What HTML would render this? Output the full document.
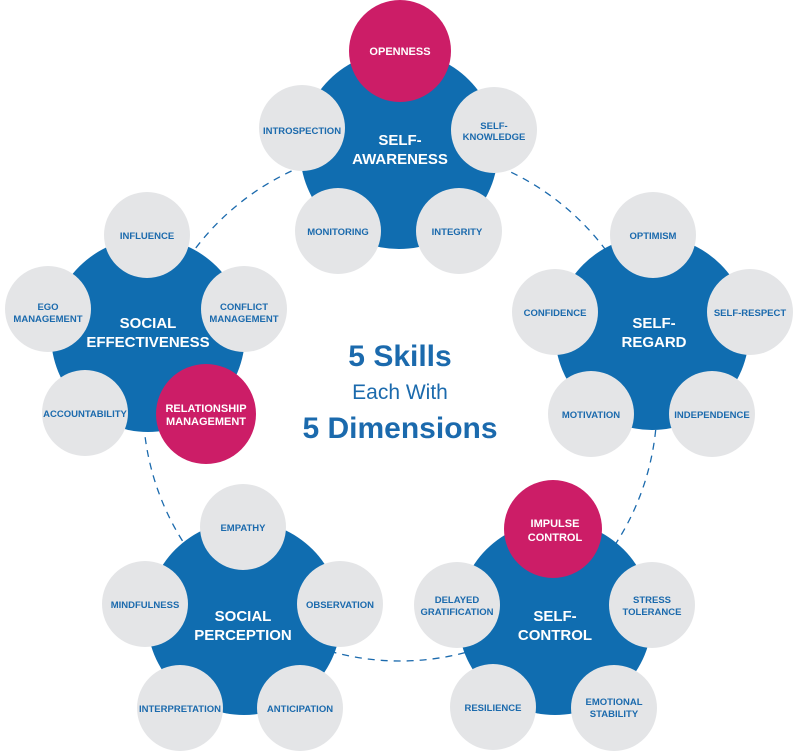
<!DOCTYPE html>
<html><head><meta charset="utf-8"><style>
html,body{margin:0;padding:0;background:#fff;}
svg{display:block;}
text{font-family:"Liberation Sans",sans-serif;font-weight:bold;text-anchor:middle;}
.s{fill:#1b6aad;font-size:9.5px;}
.m{fill:#fff;font-size:11px;}
.b{fill:#fff;font-size:15px;}
</style></head><body>
<svg width="800" height="755" viewBox="0 0 800 755">
<circle cx="400" cy="404" r="257" fill="none" stroke="#1b6aad" stroke-width="1.3" stroke-dasharray="7,6"/>
<g fill="#106db0">
<circle cx="399" cy="150" r="99"/>
<circle cx="148" cy="335" r="97"/>
<circle cx="652" cy="333" r="97"/>
<circle cx="244" cy="618" r="97"/>
<circle cx="555" cy="618" r="97"/>
</g>
<g fill="#e4e5e7">
<circle cx="302" cy="128" r="43"/><circle cx="494" cy="130" r="43"/><circle cx="338" cy="231" r="43"/><circle cx="459" cy="231" r="43"/>
<circle cx="147" cy="235" r="43"/><circle cx="48" cy="309" r="43"/><circle cx="244" cy="309" r="43"/><circle cx="85" cy="413" r="43"/>
<circle cx="653" cy="235" r="43"/><circle cx="555" cy="312" r="43"/><circle cx="750" cy="312" r="43"/><circle cx="591" cy="414" r="43"/><circle cx="712" cy="414" r="43"/>
<circle cx="243" cy="527" r="43"/><circle cx="145" cy="604" r="43"/><circle cx="340" cy="604" r="43"/><circle cx="180" cy="708" r="43"/><circle cx="300" cy="708" r="43"/>
<circle cx="457" cy="605" r="43"/><circle cx="652" cy="605" r="43"/><circle cx="493" cy="707" r="43"/><circle cx="614" cy="708" r="43"/>
</g>
<g fill="#cc1d67">
<circle cx="400" cy="51" r="51"/><circle cx="206" cy="414" r="50"/><circle cx="553" cy="529" r="49"/>
</g>
<text class="m" x="400" y="55">OPENNESS</text>
<text class="m" x="206" y="412">RELATIONSHIP</text><text class="m" x="206" y="425">MANAGEMENT</text>
<text class="m" x="555" y="527">IMPULSE</text><text class="m" x="555" y="541">CONTROL</text>
<text class="b" x="400" y="145">SELF-</text><text class="b" x="400" y="164">AWARENESS</text>
<text class="b" x="148" y="328">SOCIAL</text><text class="b" x="148" y="347">EFFECTIVENESS</text>
<text class="b" x="654" y="328">SELF-</text><text class="b" x="654" y="347">REGARD</text>
<text class="b" x="243" y="621">SOCIAL</text><text class="b" x="243" y="640">PERCEPTION</text>
<text class="b" x="555" y="621">SELF-</text><text class="b" x="555" y="640">CONTROL</text>
<text class="s" x="302" y="134">INTROSPECTION</text>
<text class="s" x="494" y="129">SELF-</text><text class="s" x="494" y="140">KNOWLEDGE</text>
<text class="s" x="338" y="235">MONITORING</text><text class="s" x="457" y="235">INTEGRITY</text>
<text class="s" x="147" y="239">INFLUENCE</text>
<text class="s" x="48" y="310">EGO</text><text class="s" x="48" y="322">MANAGEMENT</text>
<text class="s" x="244" y="310">CONFLICT</text><text class="s" x="244" y="322">MANAGEMENT</text>
<text class="s" x="85" y="417">ACCOUNTABILITY</text>
<text class="s" x="653" y="239">OPTIMISM</text><text class="s" x="555" y="316">CONFIDENCE</text><text class="s" x="750" y="316">SELF-RESPECT</text>
<text class="s" x="591" y="418">MOTIVATION</text><text class="s" x="712" y="418">INDEPENDENCE</text>
<text class="s" x="243" y="531">EMPATHY</text><text class="s" x="145" y="608">MINDFULNESS</text><text class="s" x="340" y="608">OBSERVATION</text>
<text class="s" x="180" y="712">INTERPRETATION</text><text class="s" x="300" y="712">ANTICIPATION</text>
<text class="s" x="457" y="603">DELAYED</text><text class="s" x="457" y="615">GRATIFICATION</text>
<text class="s" x="652" y="603">STRESS</text><text class="s" x="652" y="615">TOLERANCE</text>
<text class="s" x="493" y="711">RESILIENCE</text>
<text class="s" x="614" y="705">EMOTIONAL</text><text class="s" x="614" y="717">STABILITY</text>
<text x="400" y="366" style="fill:#1b6aad;font-size:30px;">5 Skills</text>
<text x="400" y="399" style="fill:#1b6aad;font-size:21px;font-weight:normal;">Each With</text>
<text x="400" y="438" style="fill:#1b6aad;font-size:30px;">5 Dimensions</text>
</svg>
</body></html>
